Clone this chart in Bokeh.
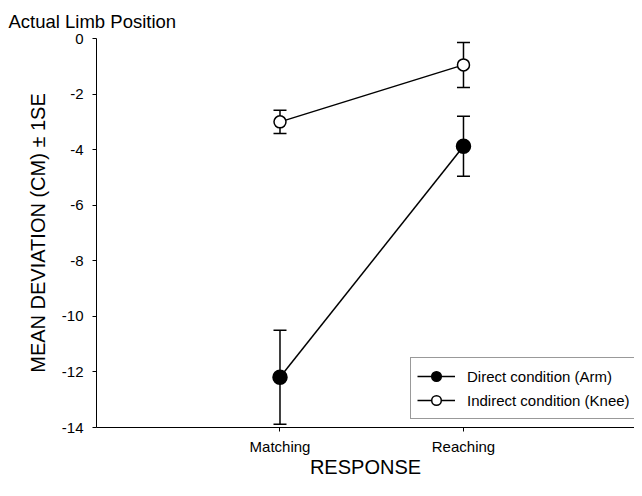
from bokeh.plotting import figure
from bokeh.models import Range1d, FixedTicker, Whisker, TeeHead, ColumnDataSource, Legend, LegendItem
from bokeh.embed import file_html
from bokeh.resources import INLINE

# ---- data ----
responses = ["Matching", "Reaching"]
arm_mean = [-12.19, -3.88]
arm_se = [1.69, 1.08]
knee_mean = [-3.0, -0.95]
knee_se = [0.42, 0.81]
y_ticks = [0, -2, -4, -6, -8, -10, -12, -14]

xs = [i + 1 for i in range(len(responses))]

FONT = "Liberation Sans"

p = figure(width=634, height=480, output_backend="svg", toolbar_location=None,
           x_range=Range1d(0, 2.932), y_range=Range1d(-14, 0),
           min_border_left=96, min_border_top=38, min_border_bottom=50, min_border_right=0)

p.title.text = "Actual Limb Position"
p.title.align = "left"
p.title.offset = -88
p.title.standoff = 14
p.title.text_font = FONT
p.title.text_font_size = "18.5px"
p.title.text_font_style = "normal"
p.title.text_color = "black"

p.outline_line_color = None
p.grid.visible = False

# axes
p.xaxis.ticker = FixedTicker(ticks=xs)
p.xaxis.major_label_overrides = {x: r for x, r in zip(xs, responses)}
p.yaxis.ticker = FixedTicker(ticks=y_ticks)
p.yaxis.major_label_overrides = {t: str(t) for t in y_ticks}
for ax in (p.xaxis, p.yaxis):
    ax.axis_line_color = "black"
    ax.axis_line_width = 1
    ax.major_tick_line_color = "black"
    ax.major_tick_in = 0
    ax.major_tick_out = 4
    ax.minor_tick_line_color = None
    ax.major_label_text_font = FONT
    ax.major_label_text_font_size = "15px"
    ax.major_label_text_color = "black"
    ax.axis_label_text_font = FONT
    ax.axis_label_text_font_size = "20px"
    ax.axis_label_text_font_style = "normal"
    ax.axis_label_text_color = "black"

p.xaxis.axis_label = "RESPONSE"
p.xaxis.major_label_standoff = 6
p.xaxis.axis_label_standoff = -2
p.yaxis.axis_label = "MEAN DEVIATION (CM) \u00b1 1SE"
p.yaxis.major_label_standoff = 9
p.yaxis.axis_label_standoff = 10

# lines
arm_line = p.line(xs, arm_mean, line_color="black", line_width=1.5)
knee_line = p.line(xs, knee_mean, line_color="black", line_width=1.5)

# error bars
for mean, se in ((arm_mean, arm_se), (knee_mean, knee_se)):
    src = ColumnDataSource(dict(x=xs,
                                upper=[m + s for m, s in zip(mean, se)],
                                lower=[m - s for m, s in zip(mean, se)]))
    w = Whisker(base="x", upper="upper", lower="lower", source=src,
                line_color="black", line_width=1.5,
                upper_head=TeeHead(size=13, line_width=1.5, line_color="black"),
                lower_head=TeeHead(size=13, line_width=1.5, line_color="black"))
    p.add_layout(w)

# markers
arm_pts = p.scatter(xs, arm_mean, marker="circle", size=14, fill_color="black",
                    line_color="black", line_width=1.5)
knee_pts = p.scatter(xs, knee_mean, marker="circle", size=12, fill_color="white",
                     line_color="black", line_width=1.5)

legend = Legend(items=[
    LegendItem(label="Direct condition (Arm)", renderers=[arm_line, arm_pts]),
    LegendItem(label="Indirect condition (Knee)", renderers=[knee_line, knee_pts]),
], location=(314, 8))
legend.margin = 0
legend.padding = 6
legend.spacing = 0
legend.glyph_height = 24
legend.glyph_width = 38
legend.label_height = 22
legend.label_standoff = 12
legend.label_text_font = FONT
legend.label_text_font_size = "15px"
legend.label_text_color = "black"
legend.border_line_color = "#333333"
legend.border_line_width = 1
legend.background_fill_color = "white"
legend.background_fill_alpha = 1
p.add_layout(legend, "center")

open("out.html", "w").write(file_html(p, INLINE))
